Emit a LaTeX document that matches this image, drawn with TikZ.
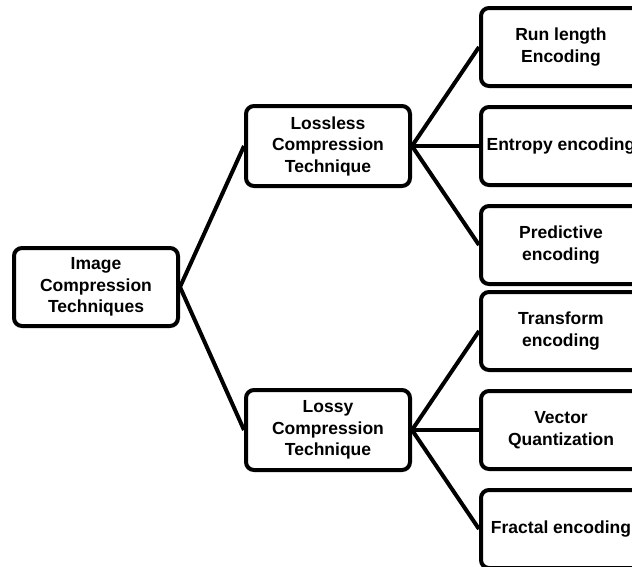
\documentclass[tikz,border=0pt]{standalone}
\usepackage{fontspec}
\setmainfont{Liberation Sans}
\usetikzlibrary{positioning}

\tikzset{
	box/.style={draw, line width=4pt, rounded corners=8pt, align=center,
		font=\bfseries\fontsize{17.5}{21.5}\selectfont, inner sep=2pt},
	midbox/.style={box, minimum width=164pt, minimum height=80pt},
	leaf/.style={box, minimum width=160pt, minimum height=78pt},
	link/.style={line width=4pt}
}

\begin{document}
\begin{tikzpicture}[x=1pt,y=-1pt]
		\useasboundingbox (0,0) rectangle (632,566);
		\node[midbox, minimum height=78pt] (img) at (96,287) {Image\\Compression\\Techniques};
		\node[midbox] (lossless) at (328,146) {Lossless\\Compression\\Technique};
		\node[midbox] (lossy) at (328,430) {Lossy\\Compression\\Technique};

		\node[leaf, right=67pt of lossless] (entropy) {Entropy encoding};
		\node[leaf, above=17pt of entropy] (runlen) {Run length\\Encoding};
		\node[leaf, below=17pt of entropy] (predict) {Predictive\\encoding};

		\node[leaf, right=67pt of lossy] (vector) {Vector\\Quantization};
		\node[leaf, above=17pt of vector] (transform) {Transform\\encoding};
		\node[leaf, below=17pt of vector] (fractal) {Fractal encoding};

		\draw[link] (lossless.west) -- (img.east) -- (lossy.west);
		\foreach \t in {runlen,entropy,predict}
			\draw[link] (lossless.east) -- (\t.west);
		\foreach \t in {transform,vector,fractal}
			\draw[link] (lossy.east) -- (\t.west);
\end{tikzpicture}
\end{document}
